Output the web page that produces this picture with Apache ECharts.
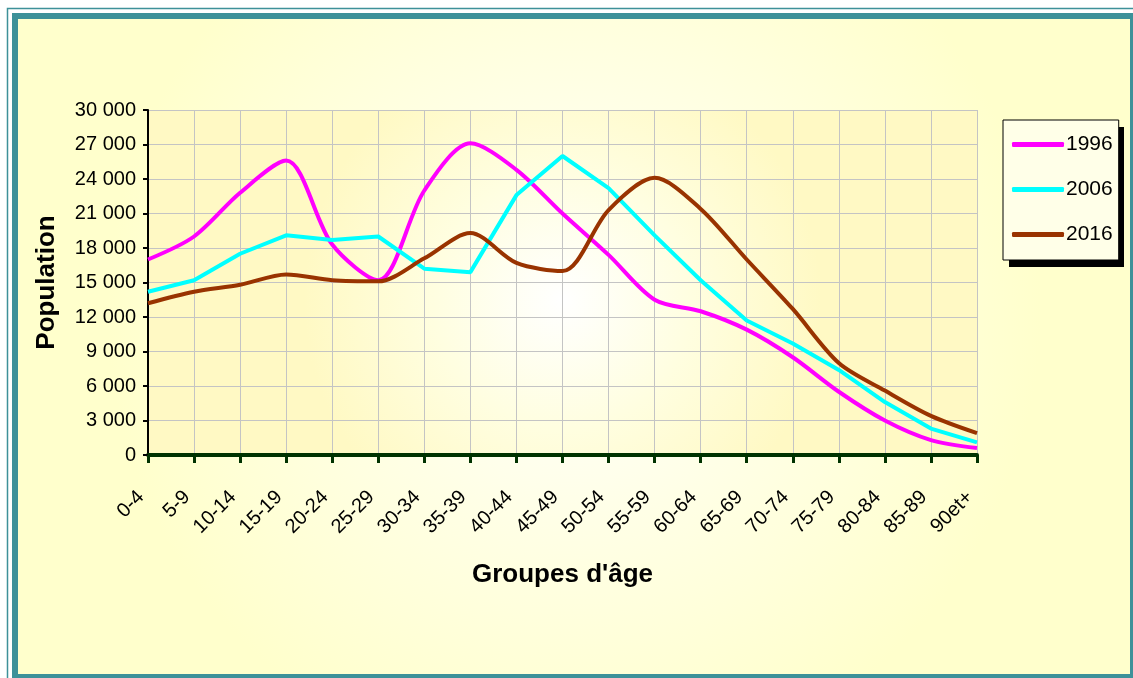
<!doctype html>
<html>
<head>
    <meta charset="UTF-8">
    <title>Groupes d'âge</title>
    <script src="https://cdn.jsdelivr.net/npm/echarts@6/dist/echarts.min.js"></script>
    <style>
        body { margin: 0; background: #fff; }
        #main { width: 1133px; height: 678px; }
    </style>
</head>
<body>
<div id="main"></div>
<script>
    var categories = ['0-4', '5-9', '10-14', '15-19', '20-24', '25-29', '30-34', '35-39', '40-44', '45-49',
        '50-54', '55-59', '60-64', '65-69', '70-74', '75-79', '80-84', '85-89', '90et+'];
    var pop1996 = [17000, 19000, 22800, 25600, 18300, 15200, 23000, 27100, 24800, 21000,
        17400, 13500, 12500, 10900, 8500, 5500, 3000, 1300, 600];
    var pop2006 = [14200, 15200, 17500, 19100, 18700, 19000, 16200, 15900, 22600, 26000,
        23200, 19100, 15200, 11700, 9700, 7400, 4600, 2300, 1100];
    var pop2016 = [13200, 14200, 14800, 15700, 15200, 15100, 17100, 19300, 16700, 16000,
        21300, 24100, 21400, 17000, 12700, 8000, 5600, 3400, 1900];

    var teal = '#3D9199';
    var font = 'Liberation Sans, Arial, sans-serif';

    var myChart = echarts.init(document.getElementById('main'));

    // fond en dégradé comme dans Excel
    var bgFill = new echarts.graphic.RadialGradient(0.5, 0.45, 0.7, [
        {offset: 0, color: '#FFFFFF'},
        {offset: 0.45, color: '#FFFFE6'},
        {offset: 1, color: '#FFFFCC'}
    ]);
    var plotFill = new echarts.graphic.RadialGradient(0.5, 0.55, 0.75, [
        {offset: 0, color: '#FFFFFF'},
        {offset: 0.5, color: '#FFFEE0'},
        {offset: 1, color: '#FFF9C4'}
    ]);

    var option = {
        animation: false,
        graphic: [
            {
                type: 'rect', z: -10,
                shape: {x: 15, y: 16, width: 1118, height: 661},
                style: {fill: bgFill, stroke: teal, lineWidth: 6}
            },
            {
                type: 'rect', z: -9,
                shape: {x: 7.5, y: 8.5, width: 1200, height: 1200},
                style: {fill: null, stroke: teal, lineWidth: 1.5}
            },
            // ombre de la légende
            {
                type: 'rect', z: 3,
                shape: {x: 1009, y: 127, width: 115, height: 140},
                style: {fill: '#000'}
            }
        ],
        grid: {
            left: 148, right: 156, top: 110, bottom: 223,
            show: true,
            backgroundColor: plotFill,
            borderWidth: 0
        },
        legend: {
            orient: 'vertical',
            left: 1003, top: 120,
            padding: [14, 6, 15, 9],
            itemGap: 24,
            itemWidth: 52, itemHeight: 5,
            icon: 'roundRect',
            borderColor: '#000', borderWidth: 1,
            backgroundColor: '#FFFFE8',
            textStyle: {fontFamily: font, fontSize: 21, color: '#000', padding: [0, 0, 0, -3]},
            data: ['1996', '2006', '2016']
        },
        xAxis: {
            type: 'category',
            data: categories,
            boundaryGap: false,
            name: "Groupes d'âge",
            nameLocation: 'middle',
            nameGap: 107,
            nameTextStyle: {fontFamily: font, fontSize: 26, fontWeight: 'bold', color: '#000'},
            axisLine: {lineStyle: {color: '#003300', width: 4}},
            axisTick: {show: true, alignWithLabel: true, length: 8, lineStyle: {color: '#003300', width: 3}},
            axisLabel: {
                rotate: 45, margin: 32, interval: 0, padding: [0, 10, 0, 0],
                fontFamily: font, fontSize: 20, color: '#000'
            },
            splitLine: {show: true, lineStyle: {color: '#C4C4C4', width: 1}}
        },
        yAxis: {
            type: 'value',
            min: 0, max: 30000, interval: 3000,
            name: 'Population',
            nameLocation: 'middle',
            nameGap: 88,
            nameTextStyle: {fontFamily: font, fontSize: 26, fontWeight: 'bold', color: '#000'},
            axisLine: {show: true, lineStyle: {color: '#000', width: 2}},
            axisTick: {show: true, length: 5, lineStyle: {color: '#000', width: 2}},
            axisLabel: {
                margin: 12, fontFamily: font, fontSize: 20, color: '#000',
                formatter: function (v) {
                    return String(v).replace(/\B(?=(\d{3})+(?!\d))/g, ' ');
                }
            },
            splitLine: {show: true, lineStyle: {color: '#C4C4C4', width: 1}}
        },
        series: [
            {
                name: '1996', type: 'line', data: pop1996,
                smooth: 0.3, showSymbol: false,
                lineStyle: {color: '#FF00FF', width: 4},
                itemStyle: {color: '#FF00FF'}
            },
            {
                name: '2006', type: 'line', data: pop2006,
                smooth: false, showSymbol: false,
                lineStyle: {color: '#00FFFF', width: 4},
                itemStyle: {color: '#00FFFF'}
            },
            {
                name: '2016', type: 'line', data: pop2016,
                smooth: 0.3, showSymbol: false,
                lineStyle: {color: '#993300', width: 4},
                itemStyle: {color: '#993300'}
            }
        ]
    };

    myChart.setOption(option);
</script>
</body>
</html>
